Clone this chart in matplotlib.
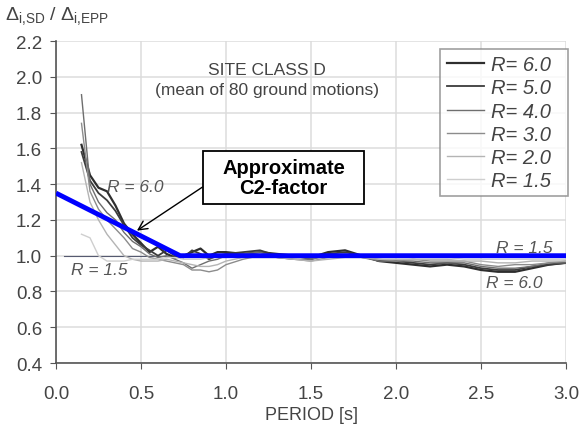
import numpy as np
import matplotlib
matplotlib.use('Agg')
import matplotlib.pyplot as plt
from matplotlib.patches import Rectangle

plt.rcParams['font.family'] = ['Liberation Sans', 'DejaVu Sans']
plt.rcParams['mathtext.fontset'] = 'custom'
plt.rcParams['mathtext.rm'] = 'Liberation Sans'
plt.rcParams['mathtext.it'] = 'Liberation Sans:italic'

# periods [s]
T = [0.15, 0.2, 0.25, 0.3, 0.35, 0.4, 0.45, 0.5, 0.55, 0.6, 0.65, 0.7, 0.75,
     0.8, 0.85, 0.9, 0.95, 1.0, 1.1, 1.2, 1.3, 1.4, 1.5, 1.6, 1.7, 1.8, 1.9,
     2.0, 2.1, 2.2, 2.3, 2.4, 2.5, 2.6, 2.7, 2.8, 2.9, 3.0]

r60 = [1.62, 1.45, 1.38, 1.36, 1.28, 1.18, 1.12, 1.07, 1.02, 1.05, 1.01, 0.99, 1.0,
       1.02, 1.04, 1.0, 1.02, 1.02, 1.01, 1.02, 1.01, 1.0, 0.99, 1.02, 1.03, 1.0, 0.97,
       0.96, 0.95, 0.94, 0.95, 0.94, 0.92, 0.91, 0.91, 0.93, 0.95, 0.96]
r50 = [1.58, 1.42, 1.35, 1.31, 1.25, 1.17, 1.10, 1.06, 1.03, 1.0, 1.03, 1.0, 0.99,
       1.03, 1.01, 0.98, 1.0, 1.01, 1.02, 1.03, 1.0, 1.0, 0.98, 1.01, 1.02, 1.0, 0.97,
       0.97, 0.96, 0.95, 0.96, 0.95, 0.93, 0.92, 0.92, 0.94, 0.95, 0.96]
r40 = [1.9, 1.4, 1.3, 1.24, 1.2, 1.13, 1.08, 1.05, 1.01, 0.99, 1.0, 0.98, 0.96,
       0.93, 0.95, 0.97, 0.98, 1.0, 1.01, 1.02, 0.99, 0.98, 0.98, 1.0, 1.01, 0.99, 0.97,
       0.97, 0.97, 0.96, 0.96, 0.96, 0.94, 0.93, 0.93, 0.94, 0.96, 0.96]
r30 = [1.74, 1.36, 1.26, 1.2, 1.15, 1.1, 1.04, 1.02, 0.99, 0.98, 0.97, 0.96, 0.95,
       0.92, 0.92, 0.91, 0.92, 0.95, 0.98, 1.0, 0.99, 0.98, 0.97, 0.99, 1.0, 0.99, 0.98,
       0.97, 0.98, 0.97, 0.97, 0.97, 0.95, 0.94, 0.95, 0.95, 0.96, 0.97]
r20 = [1.52, 1.3, 1.2, 1.12, 1.06, 1.0, 0.98, 0.97, 0.97, 0.97, 0.98, 0.97, 0.96,
       0.95, 0.94, 0.94, 0.95, 0.97, 0.99, 0.99, 0.99, 0.98, 0.97, 0.98, 0.99, 0.99, 0.98,
       0.98, 0.98, 0.98, 0.98, 0.97, 0.97, 0.96, 0.96, 0.97, 0.97, 0.97]
r15 = [1.12, 1.1, 1.0, 0.97, 0.97, 0.97, 0.98, 0.98, 0.98, 0.98, 0.99, 0.99, 0.98,
       0.98, 0.98, 0.99, 0.99, 0.99, 1.0, 1.0, 1.0, 0.99, 0.99, 0.99, 1.0, 1.0, 0.99,
       0.99, 0.99, 0.99, 0.99, 0.98, 0.98, 0.98, 0.98, 0.98, 0.98, 0.98]

series = [('6.0', r60, '#2e2e2e', 1.6), ('5.0', r50, '#3c3c3c', 1.3),
          ('4.0', r40, '#6e6e6e', 1.0), ('3.0', r30, '#8c8c8c', 1.0),
          ('2.0', r20, '#b4b4b4', 1.0), ('1.5', r15, '#cfcfcf', 1.0)]

# approximate C2 factor (bilinear)
c2_T = [0.0, 0.73, 3.0]
c2_v = [1.35, 1.0, 1.0]

fig = plt.figure(figsize=(5.79, 4.27), dpi=100)
ax = fig.add_axes([0.0967, 0.1475, 0.881, 0.754])

ax.grid(True, color='#dcdcdc', lw=1.1)
ax.set_axisbelow(True)
ax.plot([0.05, 3.0], [1.0, 1.0], color='#555a70', lw=0.8, zorder=1)

for lab, vals, col, lw in series:
    ax.plot(T, vals, color=col, lw=lw, label='R= ' + lab + '  ', zorder=2)

ax.plot(c2_T, c2_v, color='#0000ff', lw=3.5, zorder=4, solid_capstyle='butt')

ax.set_xlim(0, 3.0)
ax.set_ylim(0.4, 2.2)
ax.set_xticks(np.arange(0, 3.01, 0.5))
ax.set_yticks(np.arange(0.4, 2.21, 0.2))
ax.set_xticklabels(['%.1f' % v for v in np.arange(0, 3.01, 0.5)])
ax.set_yticklabels(['%.1f' % v for v in np.arange(0.4, 2.21, 0.2)])
ax.tick_params(direction='out', length=4, color='#555555', labelcolor='#444444',
               labelsize=13.5)
ax.tick_params(axis='y', pad=6)
ax.tick_params(axis='x', pad=12)
for s in ['top', 'right']:
    ax.spines[s].set_visible(False)
for s in ['left', 'bottom']:
    ax.spines[s].set_color('#555555')
    ax.spines[s].set_linewidth(1.2)

ax.set_xlabel('PERIOD [s]', fontsize=13, color='#444444', labelpad=3)
fig.text(0.008, 0.952, r'$\Delta_{\mathrm{i{,}SD}}$ / $\Delta_{\mathrm{i{,}EPP}}$',
         fontsize=14, color='#444444')

ax.text(1.24, 2.04, 'SITE CLASS D', ha='center', va='center', fontsize=12.5,
        color='#444444')
ax.text(1.24, 1.93, '(mean of 80 ground motions)', ha='center', va='center',
        fontsize=12.5, color='#444444')

kw = dict(fontsize=12.5, color='#555555', style='italic', va='center')
ax.text(0.30, 1.385, 'R = 6.0', **kw)
ax.text(0.09, 0.925, 'R = 1.5', **kw)
ax.text(2.59, 1.045, 'R = 1.5', zorder=3, **kw)
ax.text(2.53, 0.85, 'R = 6.0', **kw)

# callout box with arrow to the C2 line
ax.add_patch(Rectangle((0.865, 1.289), 0.947, 0.296, fc='white', ec='black',
                       lw=1.3, zorder=5))
ax.text(1.338, 1.437, 'Approximate\nC2-factor', ha='center', va='center',
        fontsize=14.5, fontweight='bold', linespacing=1.1, zorder=6)
ax.annotate('', xy=(0.476, 1.14), xytext=(0.862, 1.384),
            arrowprops=dict(arrowstyle='->', color='black', lw=1.0,
                            shrinkA=0, shrinkB=0, mutation_scale=16),
            zorder=6)

leg = ax.legend(loc='upper right', bbox_to_anchor=(1.004, 0.975),
                frameon=True, fancybox=False, edgecolor='#888888',
                handlelength=1.85, handletextpad=0.35, labelspacing=0.21,
                borderpad=0.3, borderaxespad=0.0,
                prop={'style': 'italic', 'size': 14.5})
leg.get_frame().set_linewidth(1.2)
for t in leg.get_texts():
    t.set_color('#444444')

fig.savefig('out.png', dpi=100)
